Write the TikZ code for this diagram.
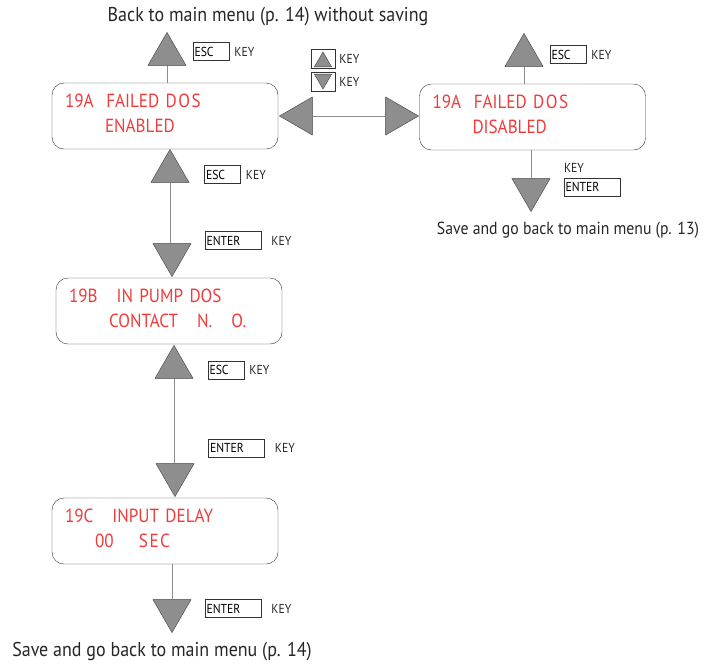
\documentclass[tikz,border=0pt]{standalone}
\usepackage{fontspec}
\setmainfont{PT Sans}[FakeStretch=0.9]
\usetikzlibrary{shapes.geometric,positioning}

\definecolor{lcdred}{HTML}{F23A3A}
\definecolor{trigray}{HTML}{8E8E8E}
\newcommand{\keyfont}{\fontsize{13}{13}\selectfont}
\newcommand{\lcdfont}{\fontsize{19}{25}\selectfont}
\newcommand{\notefont}{\fontsize{20}{20}\selectfont}
\newcommand{\lcdsp}{\kern1.5pt}
\newcommand{\lcdend}{\rule[-6pt]{0pt}{0pt}}

\tikzset{
  tri/.style={regular polygon, regular polygon sides=3, draw=black!75, fill=trigray,
              inner sep=0pt, minimum size=44pt, anchor=corner 1},
  triup/.style={tri},
  tridown/.style={tri, shape border rotate=180},
  trileft/.style={tri, shape border rotate=90},
  triright/.style={tri, shape border rotate=270},
  screen/.style={draw=black!80, rounded corners=12pt, minimum width=226pt, minimum height=66pt,
                 text width=200pt, inner xsep=13pt, align=left, font=\lcdfont, text=lcdred},
  keybox/.style={draw=black!80, inner xsep=1.5pt, inner ysep=0pt, minimum height=18pt,
                 align=left, font=\keyfont},
  escbox/.style={keybox, text width=33pt},
  enterbox/.style={keybox, text width=53pt},
  keylbl/.style={font=\keyfont, inner sep=0pt, text=black!85},
  note/.style={font=\notefont, inner sep=0pt, text=black!85},
  conn/.style={draw=black!45, line width=0.6pt}
}

\begin{document}
\begin{tikzpicture}[x=1pt, y=-1pt]
\useasboundingbox (0,0) rectangle (714,665);

% screens
\node[screen] (A) at (165,116)   {19A\ \ FAILED D\lcdsp O\lcdsp S\\\hspace*{40pt}ENABLED\lcdend};
\node[screen] (D) at (532.5,117) {19A\ \ FAILED D\lcdsp O\lcdsp S\\\hspace*{40pt}DISABLED\lcdend};
\node[screen] (B) at (169,311)   {19B\ \ \ IN PUMP DOS\\\hspace*{40pt}CONTACT\ \ \ N.\ \ \ O.\lcdend};
\node[screen] (C) at (165,531)   {19C\ \ \ INPUT DELAY\\\hspace*{30pt}00\ \ \ \ S\lcdsp E\lcdsp C\lcdend};

% triangles
\node[triup]    (tA0) at (167,32)  {};
\node[triup]    (tA1) at (170,149) {};
\node[tridown]  (tB0) at (172,277) {};
\node[triup]    (tB1) at (174,345) {};
\node[tridown]  (tC0) at (175,497) {};
\node[tridown]  (tC1) at (172,633) {};
\node[trileft]  (tL)  at (279,116) {};
\node[triright] (tR)  at (419,116) {};
\node[triup]    (tD0) at (524,33)  {};
\node[tridown]  (tD1) at (531,212) {};

% connectors
\path[conn] (tA0.side 2) -- (tA0.side 2 |- A.north);
\path[conn] (tA1.side 2) -- (tA1.side 2 |- tB0.side 2);
\path[conn] (tB1.side 2) -- (tB1.side 2 |- tC0.side 2);
\path[conn] (tC1.side 2 |- C.south) -- (tC1.side 2);
\path[conn] (tL.side 2) -- (tR.side 2);
\path[conn] (tD0.side 2) -- (tD0.side 2 |- D.north);
\path[conn] (tD1.side 2 |- D.south) -- (tD1.side 2);

% keys
\node[escbox]   (escA0) at (211,51.5)  {ESC};
\node[keylbl]   [right=5pt of escA0]   {KEY};
\node[escbox]   (escA1) at (222.5,174.5) {ESC};
\node[keylbl]   [right=5pt of escA1]   {KEY};
\node[enterbox] (entB0) at (233,240.5) {ENTER};
\node[keylbl]   [right=10pt of entB0]  {KEY};
\node[escbox]   (escB1) at (226,370)   {ESC};
\node[keylbl]   [right=5pt of escB1]   {KEY};
\node[enterbox] (entC0) at (236.5,448) {ENTER};
\node[keylbl]   [right=10pt of entC0]  {KEY};
\node[enterbox] (entC1) at (233,608.5) {ENTER};
\node[keylbl]   [right=10pt of entC1]  {KEY};
\node[escbox]   (escD0) at (568,54.5)  {ESC};
\node[keylbl]   [right=5pt of escD0]   {KEY};
\node[enterbox] (entD1) at (592,187)   {ENTER};
\node[keylbl]   [above right=5pt and 0pt of entD1.north west, anchor=south west] {KEY};

% arrow keys
\node[draw=black!80, minimum width=24pt, minimum height=19pt, inner sep=0pt] (kup)   at (323,59) {};
\node[draw=black!80, minimum width=24pt, minimum height=19pt, inner sep=0pt] (kdown) at (323,82) {};
\node[triup, minimum size=20pt]   at ([yshift=7.5pt]kup.center)    {};
\node[tridown, minimum size=20pt] at ([yshift=-7.5pt]kdown.center) {};
\node[keylbl] [right=4pt of kup]   {KEY};
\node[keylbl] [right=4pt of kdown] {KEY};

% notes
\node[note] (back)   at (268,17)  {Back to main menu (p. 14) without saving};
\node[note, font=\fontsize{17.5}{17.5}\selectfont] (save13) at (568,230) {Save and go back to main menu (p. 13)};
\node[note] (save14) at (162,652) {Save and go back to main menu (p. 14)};
\end{tikzpicture}
\end{document}
